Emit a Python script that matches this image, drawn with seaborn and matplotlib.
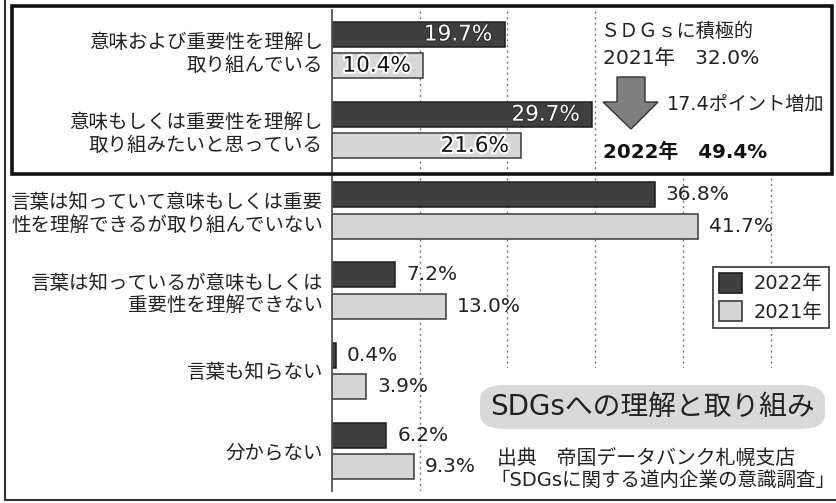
import matplotlib
matplotlib.use("Agg")
import matplotlib.pyplot as plt
import matplotlib.patheffects as pe
from matplotlib.patches import Patch, Rectangle, Polygon, FancyBboxPatch
import pandas as pd
import seaborn as sns

categories = [
    "意味および重要性を理解し\n取り組んでいる",
    "意味もしくは重要性を理解し\n取り組みたいと思っている",
    "言葉は知っていて意味もしくは重要\n性を理解できるが取り組んでいない",
    "言葉は知っているが意味もしくは\n重要性を理解できない",
    "言葉も知らない",
    "分からない",
]
values_2022 = [19.7, 29.7, 36.8, 7.2, 0.4, 6.2]
values_2021 = [10.4, 21.6, 41.7, 13.0, 3.9, 9.3]
years = ["2022年", "2021年"]
colors = ["#404040", "#d6d6d6"]
edges = ["#1e1e1e", "#3a3a3a"]

df = pd.DataFrame({
    "category": categories * 2,
    "year": [years[0]] * len(categories) + [years[1]] * len(categories),
    "share": values_2022 + values_2021,
})

sns.set_theme(style="white")
plt.rcParams["font.family"] = ["DejaVu Sans", "Noto Sans CJK JP"]

W, H = 836, 503
fig = plt.figure(figsize=(W / 100, H / 100), dpi=100)


def fx(x):
    return x / W


def fy(y):
    return 1 - y / H


ax = fig.add_axes([fx(332), fy(491), fx(830) - fx(332), fy(10) - fy(491)])
sns.barplot(data=df, y="category", x="share", hue="year", hue_order=years,
            palette=colors, orient="h", width=0.78, gap=0.2, ax=ax,
            legend=False, linewidth=1.1, edgecolor="#222")
for cont, ec in zip(ax.containers, edges):
    for bar in cont:
        bar.set_edgecolor(ec)

ax.set_xlim(0, 498 / 8.77)
ax.set_ylim(len(categories) - 0.5, -0.5)
ax.set_xlabel("")
ax.set_ylabel("")
ax.set_xticks([10, 20, 30, 40, 50])
ax.tick_params(axis="x", length=0, labelbottom=False)
ax.tick_params(axis="y", length=0, pad=6.5, labelsize=14, labelcolor="#222")
for lbl in ax.get_yticklabels():
    lbl.set_linespacing(1.25)
ax.xaxis.grid(True, linestyle=(0, (1.5, 2.5)), color="#777", lw=1)
ax.yaxis.grid(False)
for s in ["top", "right", "bottom"]:
    ax.spines[s].set_visible(False)
ax.spines["left"].set_color("#555")
ax.spines["left"].set_linewidth(1.3)

# white areas hiding grid lines behind annotations
for (x0, y0, x1, y1) in [(598, 8, 831, 173), (476, 368, 831, 499)]:
    ax.add_patch(Rectangle((fx(x0), fy(y1)), fx(x1) - fx(x0), fy(y0) - fy(y1),
                           transform=fig.transFigure, facecolor="white",
                           edgecolor="none", zorder=0.9, clip_on=False))

# value labels
for i, (cont, vals) in enumerate(zip(ax.containers, [values_2022, values_2021])):
    for j, (bar, v) in enumerate(zip(cont, vals)):
        y = bar.get_y() + bar.get_height() / 2
        if j < 2:
            if i == 0:
                kw = dict(color="white",
                          path_effects=[pe.withStroke(linewidth=1.5, foreground="#303030")])
            else:
                kw = dict(color="#111",
                          path_effects=[pe.withStroke(linewidth=3, foreground="white")])
            ax.annotate(f"{v:.1f}%", (v, y), xytext=(-9, 0), textcoords="offset points",
                        ha="right", va="center", fontsize=15.5, zorder=5, **kw)
        else:
            ax.annotate(f"{v:.1f}%", (v, y), xytext=(8, 0), textcoords="offset points",
                        ha="left", va="center", fontsize=14.5, color="#222", zorder=5)

# legend
handles = [Patch(facecolor=c, edgecolor=e, linewidth=1.2) for c, e in zip(colors, edges)]
leg = ax.legend(handles, years, loc="upper left", bbox_to_anchor=(fx(713), fy(267)),
                bbox_transform=fig.transFigure, borderaxespad=0, fontsize=14,
                handlelength=1.2, handleheight=1.2, handletextpad=0.6,
                labelspacing=0.4, borderpad=0.3, fancybox=False, framealpha=1,
                edgecolor="#333")
leg.get_frame().set_linewidth(1.2)
for t in leg.get_texts():
    t.set_color("#222")

# top-right summary
fig.text(fx(601), fy(31), "ＳＤＧｓに積極的", fontsize=13.8, color="#222", va="center")
fig.text(fx(603), fy(58), "2021年\u300032.0%", fontsize=14.6, color="#222", va="center")
fig.text(fx(667), fy(105), "17.4ポイント増加", fontsize=13.8, color="#222", va="center")
fig.text(fx(603), fy(152), "2022年\u300049.4%", fontsize=14.3, fontweight="bold",
         color="#111", va="center")
arrow = [(617, 77), (645, 77), (645, 102), (658, 102), (631, 129), (603, 102), (617, 102)]
fig.patches.append(Polygon([(fx(x), fy(y)) for x, y in arrow], closed=True,
                           transform=fig.transFigure, facecolor="#7f7f7f",
                           edgecolor="#333", linewidth=1))

# title badge and source
fig.patches.append(FancyBboxPatch((fx(480), fy(429)), fx(825) - fx(480), fy(385) - fy(429),
                                  boxstyle="round,pad=0,rounding_size=0.03",
                                  transform=fig.transFigure, facecolor="#d9d9d9",
                                  edgecolor="none"))
fig.text(fx(652), fy(407), "SDGsへの理解と取り組み", fontsize=20, color="#222",
         ha="center", va="center")
fig.text(fx(497), fy(458), "出典\u3000帝国データバンク札幌支店", fontsize=14.3,
         color="#222", va="center")
fig.text(fx(490), fy(480), "「SDGsに関する道内企業の意識調査」", fontsize=14,
         color="#222", va="center", ha="left")

# frames
fig.patches.append(Rectangle((fx(11.5), fy(174)), fx(832) - fx(11.5), fy(5.5) - fy(174),
                             transform=fig.transFigure, fill=False,
                             edgecolor="#111", linewidth=2.6))
fig.lines.append(plt.Line2D([fx(5), fx(5), fx(836)], [fy(0), fy(500), fy(500)],
                            transform=fig.transFigure, color="#333", linewidth=1.5))

fig.savefig("out.png", dpi=100)
